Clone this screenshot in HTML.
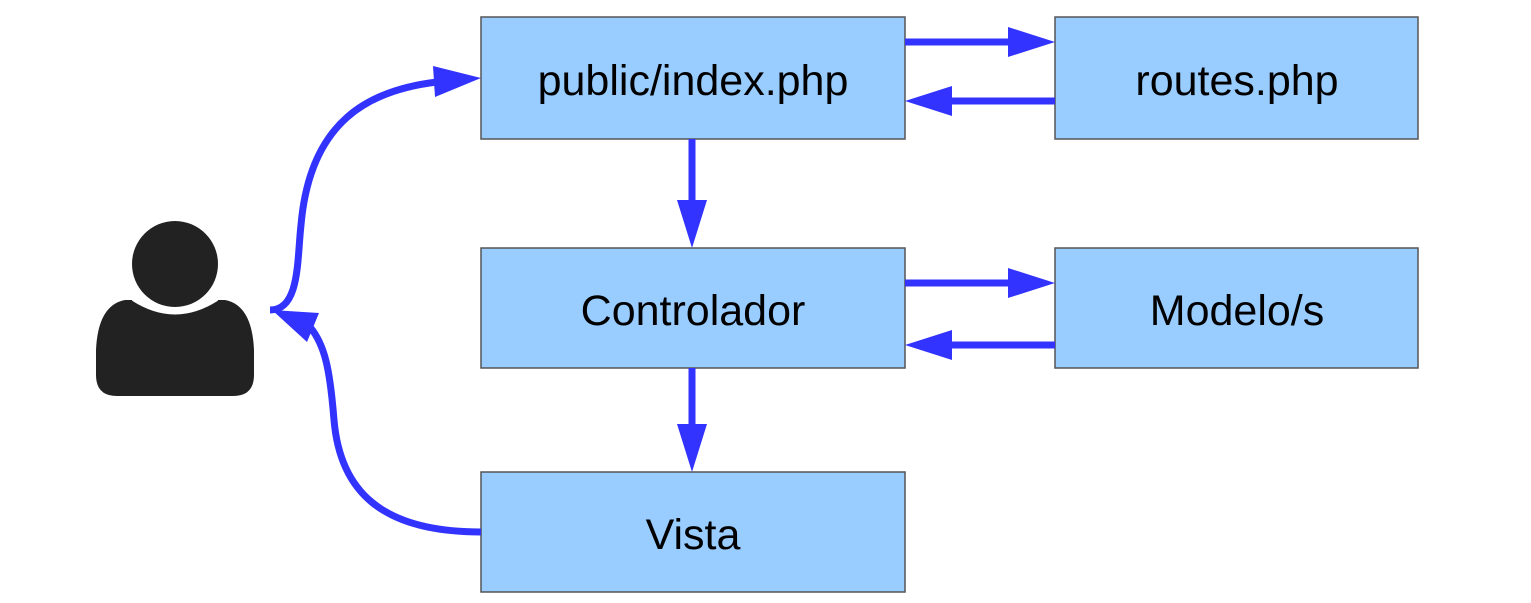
<!DOCTYPE html>
<html><head><style>
body{margin:0;background:#fff;}
svg{display:block;}
text{font-family:"Liberation Sans",sans-serif;font-size:43px;fill:#000;}
</style></head><body>
<svg width="1531" height="603" viewBox="0 0 1531 603">
<g fill="#99ccff" stroke="#555" stroke-width="1.5">
<rect x="481" y="17" width="424" height="122"/>
<rect x="1055" y="17" width="363" height="122"/>
<rect x="481" y="248" width="424" height="120"/>
<rect x="1055" y="248" width="363" height="120"/>
<rect x="481" y="472" width="424" height="120"/>
</g>
<g text-anchor="middle">
<text x="693" y="95">public/index.php</text>
<text x="1237" y="95">routes.php</text>
<text x="693" y="325">Controlador</text>
<text x="1237" y="325">Modelo/s</text>
<text x="693" y="549">Vista</text>
</g>
<g stroke="#3333ff" stroke-width="7" fill="none">
<line x1="905" y1="42" x2="1010" y2="42"/>
<line x1="1055" y1="101" x2="950" y2="101"/>
<line x1="905" y1="283" x2="1010" y2="283"/>
<line x1="1055" y1="345" x2="950" y2="345"/>
<line x1="692" y1="139" x2="692" y2="205"/>
<line x1="692" y1="368" x2="692" y2="428"/>
<path d="M270 310 C300 310 297 260 301 225 C310 120 370 90 437 82"/>
<path d="M481 532 C380 532 340 490 334 420 C330 370 325 345 310 327"/>
</g>
<g fill="#3333ff">
<polygon points="1055,42 1008,27 1008,57"/>
<polygon points="905,101 952,86 952,116"/>
<polygon points="1055,283 1008,268 1008,298"/>
<polygon points="905,345 952,330 952,360"/>
<polygon points="692,248 677,200 707,200"/>
<polygon points="692,472 677,424 707,424"/>
<polygon points="481,78 433,66 435,97"/>
<polygon points="272,310 319,313 307,342"/>
</g>
<g fill="#222">
<circle cx="175" cy="264" r="43"/>
<path d="M135 300 Q175 325 215 300 L225 300 Q252 305 254 350 L254 375 Q254 396 233 396 L117 396 Q96 396 96 375 L96 350 Q98 305 125 300 Z"/>
</g>
<path d="M133 299 Q175 326 217 299" stroke="#fff" stroke-width="4" fill="none"/>
</svg>
</body></html>
